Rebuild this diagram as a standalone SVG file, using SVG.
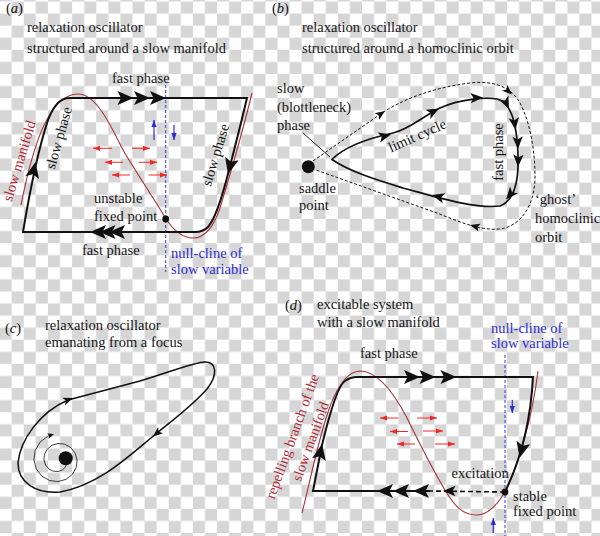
<svg xmlns="http://www.w3.org/2000/svg" xmlns:xlink="http://www.w3.org/1999/xlink" width="600" height="536" viewBox="0 0 600 536">
<defs>
<pattern id="chk" patternUnits="userSpaceOnUse" x="-0.4" y="1.5" width="24.16" height="24.16">
<rect width="24.16" height="24.16" fill="#ffffff"/>
<rect x="12.08" y="0" width="12.08" height="12.08" fill="#d6d6d6"/>
<rect x="0" y="12.08" width="12.08" height="12.08" fill="#d6d6d6"/>
</pattern>
<path id="hb" d="M0,0 L-16,-7 L-12.5,0 L-16,7 Z"/>
<path id="hm" d="M0,0 L-12.5,-5.2 L-9.5,0 L-12.5,5.2 Z"/>
<path id="hs" d="M0,0 L-10,-4 L-7.5,0 L-10,4 Z"/>
<path id="ht" d="M0,0 L-6.5,-2.8 L-5,0 L-6.5,2.8 Z"/>
<marker id="rh" markerUnits="userSpaceOnUse" markerWidth="8" markerHeight="6" viewBox="-7 -3 8 6" refX="0" refY="0" orient="auto"><path d="M0,0 L-7,-2.6 L-7,2.6 Z" fill="#f02828"/></marker>
<marker id="bh" markerUnits="userSpaceOnUse" markerWidth="8" markerHeight="6" viewBox="-7 -3 8 6" refX="0" refY="0" orient="auto"><path d="M0,0 L-7,-2.6 L-7,2.6 Z" fill="#2a2ad8"/></marker>
</defs>
<style>
.t{font-family:"Liberation Serif","Times New Roman",serif;font-size:14.5px;fill:#151515}
.rt{fill:#b02a35}
.bt{fill:#2b2bd6}
.cyc{fill:none;stroke:#111;stroke-width:2}
.man{fill:none;stroke:#a8323a;stroke-width:1.1}
.ncl{fill:none;stroke:#3a3ae0;stroke-width:1;stroke-dasharray:3 2}
.ra{stroke:#f02828;stroke-width:1;marker-end:url(#rh)}
.ba{stroke:#2a2ad8;stroke-width:1.2;marker-end:url(#bh)}
.hd{fill:#111}
.dot{fill:#111}
</style>
<rect width="600" height="536" fill="url(#chk)"/>

<g id="panel-a">
<text class="t" x="6" y="13">(<tspan font-style="italic">a</tspan>)</text>
<text class="t" x="27" y="32">relaxation oscillator</text>
<text class="t" x="27" y="52.5">structured around a slow manifold</text>
<path class="man" d="M21,205 C32,150 48,94 78,94 C96,94 110,124 122,148 C128,160 155,200 166,219 C174,231 183,238 193,238 C205,238 214,226 220,208 C230,175 243,130 252,93"/>
<line class="ncl" x1="165.7" y1="85" x2="165.7" y2="272"/>
<path class="cyc" d="M70,98 L247,98 C240,128 234,150 229,170 C224,190 216,218 208,227 C204,231 200,232 195,232 L23,232 C30,190 38,150 48,120 C54,105 60,98 70,98 Z"/>
<g class="hd">
<use xlink:href="#hb" transform="translate(133.5,98)"/>
<use xlink:href="#hb" transform="translate(150,98)"/>
<use xlink:href="#hb" transform="translate(166,98)"/>
<use xlink:href="#hb" transform="translate(90,232) rotate(180)"/>
<use xlink:href="#hb" transform="translate(99.5,232) rotate(180)"/>
<use xlink:href="#hb" transform="translate(109,232) rotate(180)"/>
<use xlink:href="#hb" transform="translate(35.5,162) rotate(-78)"/>
<use xlink:href="#hb" transform="translate(228,174) rotate(104)"/>
</g>
<line class="ra" x1="112" y1="148.3" x2="93" y2="148.3"/>
<line class="ra" x1="132" y1="148.3" x2="150" y2="148.3"/>
<line class="ra" x1="123" y1="162.3" x2="105" y2="162.3"/>
<line class="ra" x1="138.5" y1="162.3" x2="157" y2="162.3"/>
<line class="ra" x1="130" y1="175" x2="112" y2="175"/>
<line class="ra" x1="148.5" y1="175" x2="167" y2="175"/>
<line class="ba" x1="154" y1="140" x2="154" y2="120"/>
<line class="ba" x1="174" y1="125" x2="174" y2="140"/>
<circle class="dot" cx="165.7" cy="219" r="3.4"/>
<text class="t" x="112" y="83">fast phase</text>
<text class="t" x="82" y="255">fast phase</text>
<text class="t" x="94" y="203">unstable</text>
<text class="t" x="94" y="221">fixed point</text>
<text class="t bt" x="171" y="258">null-cline of</text>
<text class="t bt" x="171" y="274">slow variable</text>
<text class="t" text-anchor="middle" transform="translate(63.3,139.3) rotate(-74)">slow phase</text>
<text class="t" text-anchor="middle" transform="translate(220,156.3) rotate(-73)">slow phase</text>
<text class="t rt" text-anchor="middle" transform="translate(23.8,162.3) rotate(-73)">slow manifold</text>
</g>

<g id="panel-b">
<text class="t" x="272" y="12.5">(<tspan font-style="italic">b</tspan>)</text>
<text class="t" x="302" y="32">relaxation oscillator</text>
<text class="t" x="302" y="52.5">structured around a homoclinic orbit</text>
<path fill="none" stroke="#111" stroke-width="1" stroke-dasharray="3 2" d="M313,161 L382,113 C400,101 430,88 470,83 C495,80 512,88 520,103 C530,122 535,150 535,177 C535,200 525,222 505,228 C485,233 460,222 437,213 C400,200 350,182 316,170"/>
<path fill="none" stroke="#111" stroke-width="1.7" d="M332,159.5 C345,146 370,138 393,133 C410,129 420,118 440,108 C460,99 485,97 497,99 C512,102 517,125 518,155 C519,180 515,200 500,206 C475,209 440,198 403,188 C380,181 350,172 332,159.5 Z"/>
<line x1="303" y1="133" x2="330" y2="157" stroke="#111" stroke-width="0.9"/>
<circle class="dot" cx="308.3" cy="166.7" r="6.5"/>
<g class="hd">
<use xlink:href="#hm" transform="translate(391,134.5) rotate(-14)"/>
<use xlink:href="#hm" transform="translate(439,108.5) rotate(-28)"/>
<use xlink:href="#hm" transform="translate(483,97.5) rotate(-3)"/>
<use xlink:href="#hm" transform="translate(509,109) rotate(65)"/>
<use xlink:href="#hm" transform="translate(515.5,130) rotate(82)"/>
<use xlink:href="#hm" transform="translate(518,149) rotate(88)"/>
<use xlink:href="#hm" transform="translate(518,167) rotate(92)"/>
<use xlink:href="#hm" transform="translate(506,199.5) rotate(130)"/>
<use xlink:href="#hm" transform="translate(432,195) rotate(195)"/>
<use xlink:href="#hs" transform="translate(385,111) rotate(-34)"/>
<use xlink:href="#hs" transform="translate(512,94.5) rotate(42)"/>
<use xlink:href="#hs" transform="translate(470,225) rotate(195)"/>
</g>
<text class="t" x="277" y="93">slow</text>
<text class="t" x="277" y="111.5">(blottleneck)</text>
<text class="t" x="277" y="129.5">phase</text>
<text class="t" x="299" y="193">saddle</text>
<text class="t" x="299" y="210">point</text>
<text class="t" transform="translate(391,152.5) rotate(-24)">limit cycle</text>
<text class="t" text-anchor="middle" transform="translate(502.5,152) rotate(-90)">fast phase</text>
<text class="t" x="535" y="204">‘ghost’</text>
<text class="t" x="535" y="222.5">homoclinic</text>
<text class="t" x="535" y="241.5">orbit</text>
</g>

<g id="panel-c">
<text class="t" x="5" y="333">(<tspan font-style="italic">c</tspan>)</text>
<text class="t" x="45" y="330">relaxation oscillator</text>
<text class="t" x="45" y="347">emanating from a focus</text>
<path fill="none" stroke="#111" stroke-width="1.5" d="M18,463 C20,440 40,412 68,400 L140,381 C170,372 195,362 205,362 C217,362 218,375 207,389 C190,408 170,422 157,433 C130,455 100,485 60,492 C35,494 18,482 18,463 Z"/>
<polyline fill="none" stroke="#111" stroke-width="0.8" points="67,460 66.9,463.69 65.25,467.25 62.16,470.05 58,471.51 53.35,471.22 48.97,469.03 45.62,465.13 43.97,460 44.46,454.39 47.2,449.2 51.91,445.3 58,443.46 64.57,444.14 70.59,447.41 75.02,452.95 77.05,460 76.18,467.53 72.36,474.36 66.01,479.35 58,481.57 49.5,480.51 41.86,476.14 36.33,468.97 33.92,460 35.17,450.54 40.08,442.08 48.06,436.01 53,434.5"/>
<circle class="dot" cx="65.7" cy="458.3" r="7"/>
<g class="hd">
<use xlink:href="#hs" transform="translate(73,398) rotate(-20)"/>
<use xlink:href="#hs" transform="translate(153,436.5) rotate(140)"/>
<use xlink:href="#ht" transform="translate(54,434.3) rotate(-15)"/>
</g>
</g>

<g id="panel-d">
<text class="t" x="285" y="310">(<tspan font-style="italic">d</tspan>)</text>
<text class="t" x="317" y="309">excitable system</text>
<text class="t" x="317" y="327">with a slow manifold</text>
<text class="t bt" x="491" y="333">null-cline of</text>
<text class="t bt" x="491" y="347.5">slow variable</text>
<text class="t" x="360" y="358">fast phase</text>
<path class="man" d="M302,513 C318,450 330,372 360,371 C378,371 395,395 407,418 C415,434 430,465 445,490 C455,507 463,515 477,515 C488,515 497,505 505,492 C518,465 532,420 538,371"/>
<line class="ncl" x1="505" y1="355" x2="505" y2="536"/>
<path class="cyc" d="M430,491 L313,491 L322,445 C330,412 338,385 345,381 C349,378 352,377 357,377 L533,377 C531,415 523,455 505,492"/>
<line x1="505" y1="492" x2="430" y2="491" stroke="#111" stroke-width="1.6" stroke-dasharray="5 3"/>
<g class="hd">
<use xlink:href="#hb" transform="translate(420,377)"/>
<use xlink:href="#hb" transform="translate(435.5,377)"/>
<use xlink:href="#hb" transform="translate(456.5,377)"/>
<use xlink:href="#hb" transform="translate(377,491) rotate(180)"/>
<use xlink:href="#hb" transform="translate(393,491) rotate(180)"/>
<use xlink:href="#hb" transform="translate(413,491) rotate(180)"/>
<use xlink:href="#hm" transform="translate(443,491) rotate(180)"/>
<use xlink:href="#hb" transform="translate(322,444) rotate(-79)"/>
<use xlink:href="#hb" transform="translate(519.5,458) rotate(104)"/>
</g>
<line class="ra" x1="398" y1="418" x2="380" y2="418"/>
<line class="ra" x1="417" y1="418" x2="437" y2="418"/>
<line class="ra" x1="408" y1="431.5" x2="390" y2="431.5"/>
<line class="ra" x1="423" y1="431" x2="443" y2="431"/>
<line class="ra" x1="415" y1="444" x2="397" y2="444"/>
<line class="ra" x1="435" y1="444" x2="455" y2="444"/>
<line class="ba" x1="512.3" y1="400" x2="512.3" y2="413"/>
<line class="ba" x1="493.3" y1="533" x2="493.3" y2="518"/>
<circle class="dot" cx="505" cy="492" r="3.4"/>
<text class="t" x="451.5" y="478">excitation</text>
<text class="t" x="513" y="501">stable</text>
<text class="t" x="513" y="516">fixed point</text>
<text class="t rt" text-anchor="middle" transform="translate(296.8,438) rotate(-70)">repelling branch of the</text>
<text class="t rt" text-anchor="middle" transform="translate(315,443) rotate(-70)">slow manifold</text>
</g>
</svg>
